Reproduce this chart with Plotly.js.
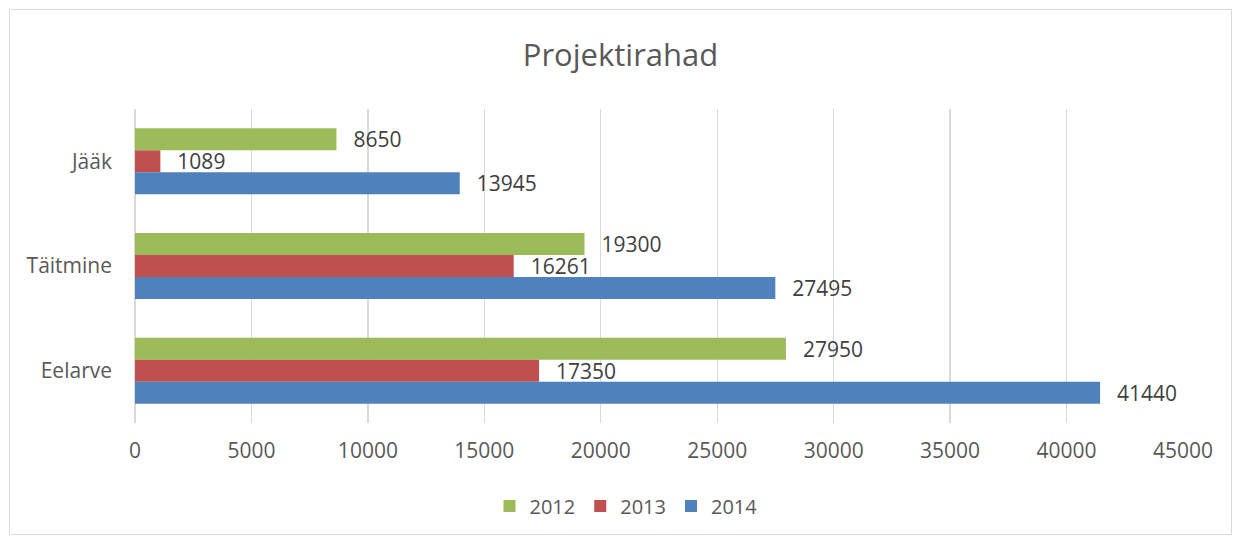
<!DOCTYPE html>
<html>
<head>
<meta charset="utf-8">
<script src="https://cdn.plot.ly/plotly-3.0.1.min.js"></script>
<style>
  html, body { margin: 0; padding: 0; background: #ffffff; }
  #chart { width: 1241px; height: 539px; }
</style>
</head>
<body>
<div id="chart"></div>
<script>
// ---- Data ----
const categories = ["Jääk", "Täitmine", "Eelarve"];
const seriesNames = ["2012", "2013", "2014"];
const values2012 = [8650, 19300, 27950];
const values2013 = [1089, 16261, 17350];
const values2014 = [13945, 27495, 41440];
const xTicks = [0, 5000, 10000, 15000, 20000, 25000, 30000, 35000, 40000, 45000];

// ---- Style ----
const colors = ["#9BBB59", "#C0504D", "#4F81BD"];
const FONT = "'Open Sans', Lato, sans-serif";
const W = 1241, H = 539;
const M = { l: 135, r: 58, t: 109, b: 116 };
const pw = W - M.l - M.r, ph = H - M.t - M.b;
function px2paperX(p) { return (p - M.l) / pw; }
function px2paperY(p) { return (H - M.b - p) / ph; }

const allSeries = [values2012, values2013, values2014];
const traces = allSeries.map((vals, i) => ({
  type: "bar",
  orientation: "h",
  name: seriesNames[i],
  y: categories,
  x: vals,
  text: vals.map(v => "\u2002\u2009" + String(v)),
  textposition: "outside",
  constraintext: "none",
  cliponaxis: false,
  textfont: { family: FONT, size: 21, color: "#404040" },
  marker: { color: colors[i], line: { width: 0 } },
  hoverinfo: "x+name"
}));

const layout = {
  width: W, height: H,
  margin: M,
  paper_bgcolor: "#ffffff",
  plot_bgcolor: "#ffffff",
  barmode: "group",
  bargap: 0.37,
  bargroupgap: 0,
  showlegend: true,
  title: {
    text: "Projektirahad",
    font: { family: FONT, size: 31, color: "#595959" },
    x: 0.5, xanchor: "center",
    y: 1 - 55 / H, yanchor: "middle"
  },
  xaxis: {
    range: [0, 45000],
    tickvals: xTicks,
    ticktext: xTicks.map(String),
    showgrid: true,
    gridcolor: "#D9D9D9",
    gridwidth: 1.3,
    zeroline: true,
    zerolinecolor: "#D9D9D9",
    zerolinewidth: 1.3,
    showline: false,
    ticks: "",
    ticklabelstandoff: 13,
    tickfont: { family: FONT, size: 21, color: "#595959" },
    fixedrange: true
  },
  yaxis: {
    type: "category",
    autorange: "reversed",
    showgrid: false,
    zeroline: false,
    showline: false,
    ticks: "",
    ticklabelstandoff: 22,
    tickfont: { family: FONT, size: 21, color: "#595959" },
    fixedrange: true
  },
  legend: {
    orientation: "h",
    x: px2paperX(626), xanchor: "center",
    y: px2paperY(506), yanchor: "middle",
    font: { family: FONT, size: 20, color: "#595959" },
    itemwidth: 30,
    traceorder: "normal",
    bgcolor: "rgba(0,0,0,0)"
  },
  shapes: [{
    type: "rect",
    xref: "paper", yref: "paper",
    x0: px2paperX(9.5), x1: px2paperX(1231.5),
    y0: px2paperY(534.5), y1: px2paperY(9.5),
    line: { color: "#D9D9D9", width: 1 },
    fillcolor: "rgba(0,0,0,0)",
    layer: "below"
  }]
};

Plotly.newPlot("chart", traces, layout, { displayModeBar: false, staticPlot: true });
</script>
</body>
</html>
